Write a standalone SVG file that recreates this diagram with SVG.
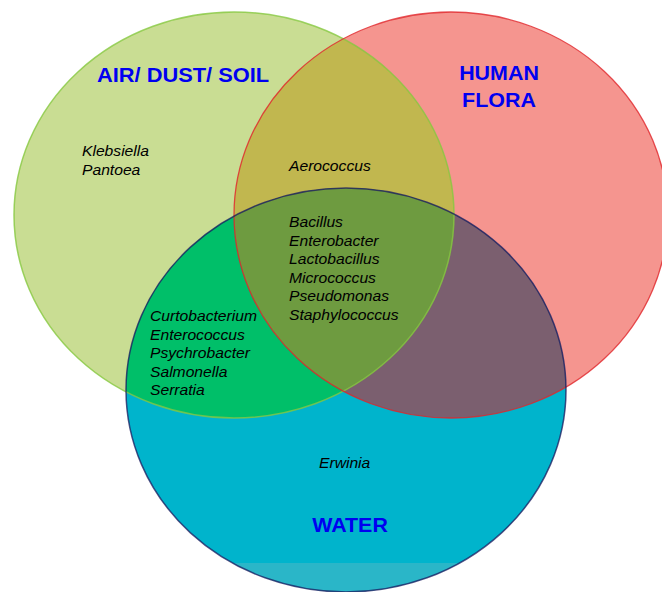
<svg xmlns="http://www.w3.org/2000/svg" width="662" height="592" viewBox="0 0 662 592">
<style>
.title{font-family:"Liberation Sans",Arial,sans-serif;font-weight:bold;font-size:21px;fill:#0000F0}
.lbl{font-family:"Liberation Sans",Arial,sans-serif;font-style:italic;font-size:14.5px;fill:#000}
</style>
<defs>
<clipPath id="cL"><ellipse cx="234" cy="215" rx="220" ry="203"/></clipPath>
<clipPath id="cR"><ellipse cx="451" cy="215" rx="217" ry="203"/></clipPath>
<clipPath id="cB"><ellipse cx="346" cy="390" rx="220" ry="202"/></clipPath>
</defs>
<rect width="662" height="592" fill="#FFFFFF"/>
<g id="circles">
<ellipse cx="234" cy="215" rx="220" ry="203" fill="#C9DD93"/>
<ellipse cx="451" cy="215" rx="217" ry="203" fill="#F5958F"/>
<ellipse cx="346" cy="390" rx="220" ry="202" fill="#00B4CC"/>
<rect x="100" y="563" width="500" height="30" fill="#2AB6C8" clip-path="url(#cB)"/>
<g clip-path="url(#cL)"><ellipse cx="451" cy="215" rx="217" ry="203" fill="#C1B74F"/></g>
<g clip-path="url(#cL)"><ellipse cx="346" cy="390" rx="220" ry="202" fill="#00BF69"/></g>
<g clip-path="url(#cR)"><ellipse cx="346" cy="390" rx="220" ry="202" fill="#7B5F6F"/></g>
<g clip-path="url(#cL)"><g clip-path="url(#cR)"><ellipse cx="346" cy="390" rx="220" ry="202" fill="#6E9B40"/></g></g>
<ellipse cx="234" cy="215" rx="220" ry="203" fill="none" stroke="#86C840" stroke-width="1.5" stroke-opacity="0.8"/>
<ellipse cx="451" cy="215" rx="217" ry="203" fill="none" stroke="#E0262A" stroke-width="1.3" stroke-opacity="0.8"/>
<ellipse cx="346" cy="390" rx="220" ry="202" fill="none" stroke="#1A1A5E" stroke-width="1.5" stroke-opacity="0.75"/>
</g>
<g id="connectors"/>
<g id="air-dust-soil">
<text class="title" transform="translate(97,82) scale(1.04,1)">AIR/ DUST/ SOIL</text>
<text class="lbl" transform="translate(82,156) scale(1.08,1)">Klebsiella</text>
<text class="lbl" transform="translate(82,175) scale(1.08,1)">Pantoea</text>
</g>
<g id="human-flora">
<text class="title" text-anchor="middle" transform="translate(499,80) scale(1.02,1)">HUMAN</text>
<text class="title" text-anchor="middle" transform="translate(499,107) scale(1.02,1)">FLORA</text>
</g>
<g id="air-human">
<text class="lbl" transform="translate(289,171) scale(1.08,1)">Aerococcus</text>
</g>
<g id="all-three">
<text class="lbl" transform="translate(289,227) scale(1.08,1)">Bacillus</text>
<text class="lbl" transform="translate(289,245.5) scale(1.08,1)">Enterobacter</text>
<text class="lbl" transform="translate(289,264) scale(1.08,1)">Lactobacillus</text>
<text class="lbl" transform="translate(289,282.5) scale(1.08,1)">Micrococcus</text>
<text class="lbl" transform="translate(289,301) scale(1.08,1)">Pseudomonas</text>
<text class="lbl" transform="translate(289,319.5) scale(1.08,1)">Staphylococcus</text>
</g>
<g id="air-water">
<text class="lbl" transform="translate(150,321) scale(1.08,1)">Curtobacterium</text>
<text class="lbl" transform="translate(150,339.5) scale(1.08,1)">Enterococcus</text>
<text class="lbl" transform="translate(150,358) scale(1.08,1)">Psychrobacter</text>
<text class="lbl" transform="translate(150,376.5) scale(1.08,1)">Salmonella</text>
<text class="lbl" transform="translate(150,395) scale(1.08,1)">Serratia</text>
</g>
<g id="water">
<text class="lbl" transform="translate(319,468) scale(1.08,1)">Erwinia</text>
<text class="title" text-anchor="middle" transform="translate(350,532) scale(1.02,1)">WATER</text>
</g>
</svg>
